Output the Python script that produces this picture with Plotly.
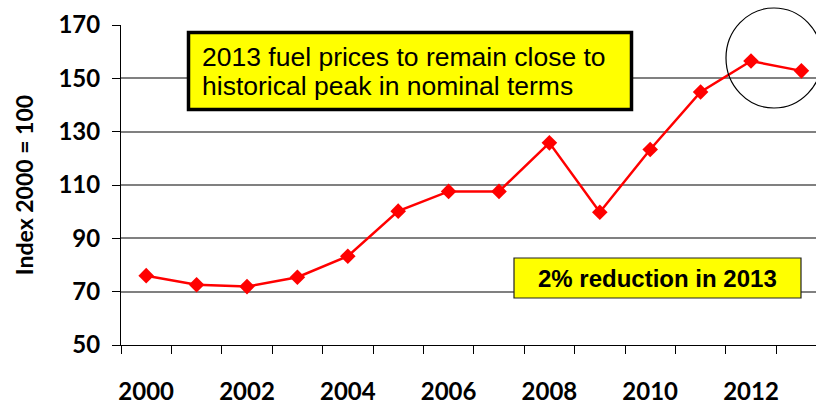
import plotly.graph_objects as go

years = list(range(2000, 2014))
index_values = [76.0, 72.6, 71.9, 75.4, 83.3, 100.2, 107.6, 107.6, 125.8, 99.8, 123.3, 144.9, 156.5, 152.8]
label_years = [2000, 2002, 2004, 2006, 2008, 2010, 2012]
y_ticks = [50, 70, 90, 110, 130, 150, 170]
boundaries = [y - 0.5 for y in range(2000, 2015)]

W, H = 816, 405
ML, MR, MT, MB = 121, 0, 25, 60
pw, ph = W - ML - MR, H - MT - MB

def px(x):
    return (x - ML) / pw

def py(y):
    return (H - MB - y) / ph

fig = go.Figure()
fig.add_trace(go.Scatter(
    x=years, y=index_values, mode="lines+markers",
    line=dict(color="#ff0000", width=2.5),
    marker=dict(symbol="diamond", size=12, color="#ff0000"),
    showlegend=False, cliponaxis=False,
))
fig.add_trace(go.Scatter(x=years, y=index_values, xaxis="x2", mode="none",
                         showlegend=False, hoverinfo="skip"))

xr = [1999.5, 1999.5 + pw / 50.4]
axis_font = dict(family="Lato", size=24, color="black", weight="bold")

fig.update_layout(
    width=W, height=H,
    margin=dict(l=ML, r=MR, t=MT, b=MB, autoexpand=False),
    paper_bgcolor="white", plot_bgcolor="white",
    xaxis=dict(range=xr, tickmode="array", tickvals=boundaries,
               ticktext=[""] * len(boundaries), automargin=False,
               ticks="outside", ticklen=8, tickcolor="black", tickwidth=1,
               showline=True, linecolor="black", linewidth=1,
               showgrid=False, zeroline=False),
    xaxis2=dict(range=xr, overlaying="x", side="bottom", tickmode="array",
                tickvals=label_years, ticktext=[str(y) for y in label_years],
                ticks="", showline=False, showgrid=False, zeroline=False,
                automargin=False, tickfont=axis_font, ticklabelstandoff=30),
    yaxis=dict(range=[50, 170], tickmode="array", tickvals=y_ticks,
               ticks="outside", ticklen=8, tickcolor="black", tickwidth=1,
               showline=True, linecolor="black", linewidth=1,
               showgrid=True, gridcolor="#808080", gridwidth=1.5,
               zeroline=False, tickfont=axis_font, ticklabelstandoff=7,
               automargin=False,
               title=dict(text="Index 2000 = 100", standoff=18,
                          font=dict(family="Lato", size=23, color="black", weight="bold"))),
    shapes=[
        dict(type="circle", xref="paper", yref="paper",
             x0=px(726), x1=px(822), y0=py(108), y1=py(8),
             line=dict(color="black", width=1.2)),
        dict(type="rect", xref="paper", yref="paper",
             x0=px(188.5), x1=px(631.5), y0=py(109.5), y1=py(32.5),
             fillcolor="#ffff00", line=dict(color="black", width=3.5)),
        dict(type="rect", xref="paper", yref="paper",
             x0=px(514), x1=px(801), y0=py(298), y1=py(258),
             fillcolor="#ffff00", line=dict(color="#222222", width=1.2)),
    ],
    annotations=[
        dict(xref="paper", yref="paper", x=px(200), y=py(57),
             xanchor="left", yanchor="middle", showarrow=False,
             text="2013 fuel prices to remain close to",
             font=dict(family="Liberation Sans", size=26.5, color="black")),
        dict(xref="paper", yref="paper", x=px(200), y=py(86),
             xanchor="left", yanchor="middle", showarrow=False,
             text="historical peak in nominal terms",
             font=dict(family="Liberation Sans", size=26.5, color="black")),
        dict(xref="paper", yref="paper", x=px(657.5), y=py(278),
             xanchor="center", yanchor="middle", showarrow=False,
             text="<b>2% reduction in 2013</b>",
             font=dict(family="Liberation Sans", size=24, color="black")),
    ],
)

fig.write_html(
    "out.html",
    config={"displayModeBar": False},
    post_script="document.body.style.margin='0';document.body.style.overflow='hidden';",
)
